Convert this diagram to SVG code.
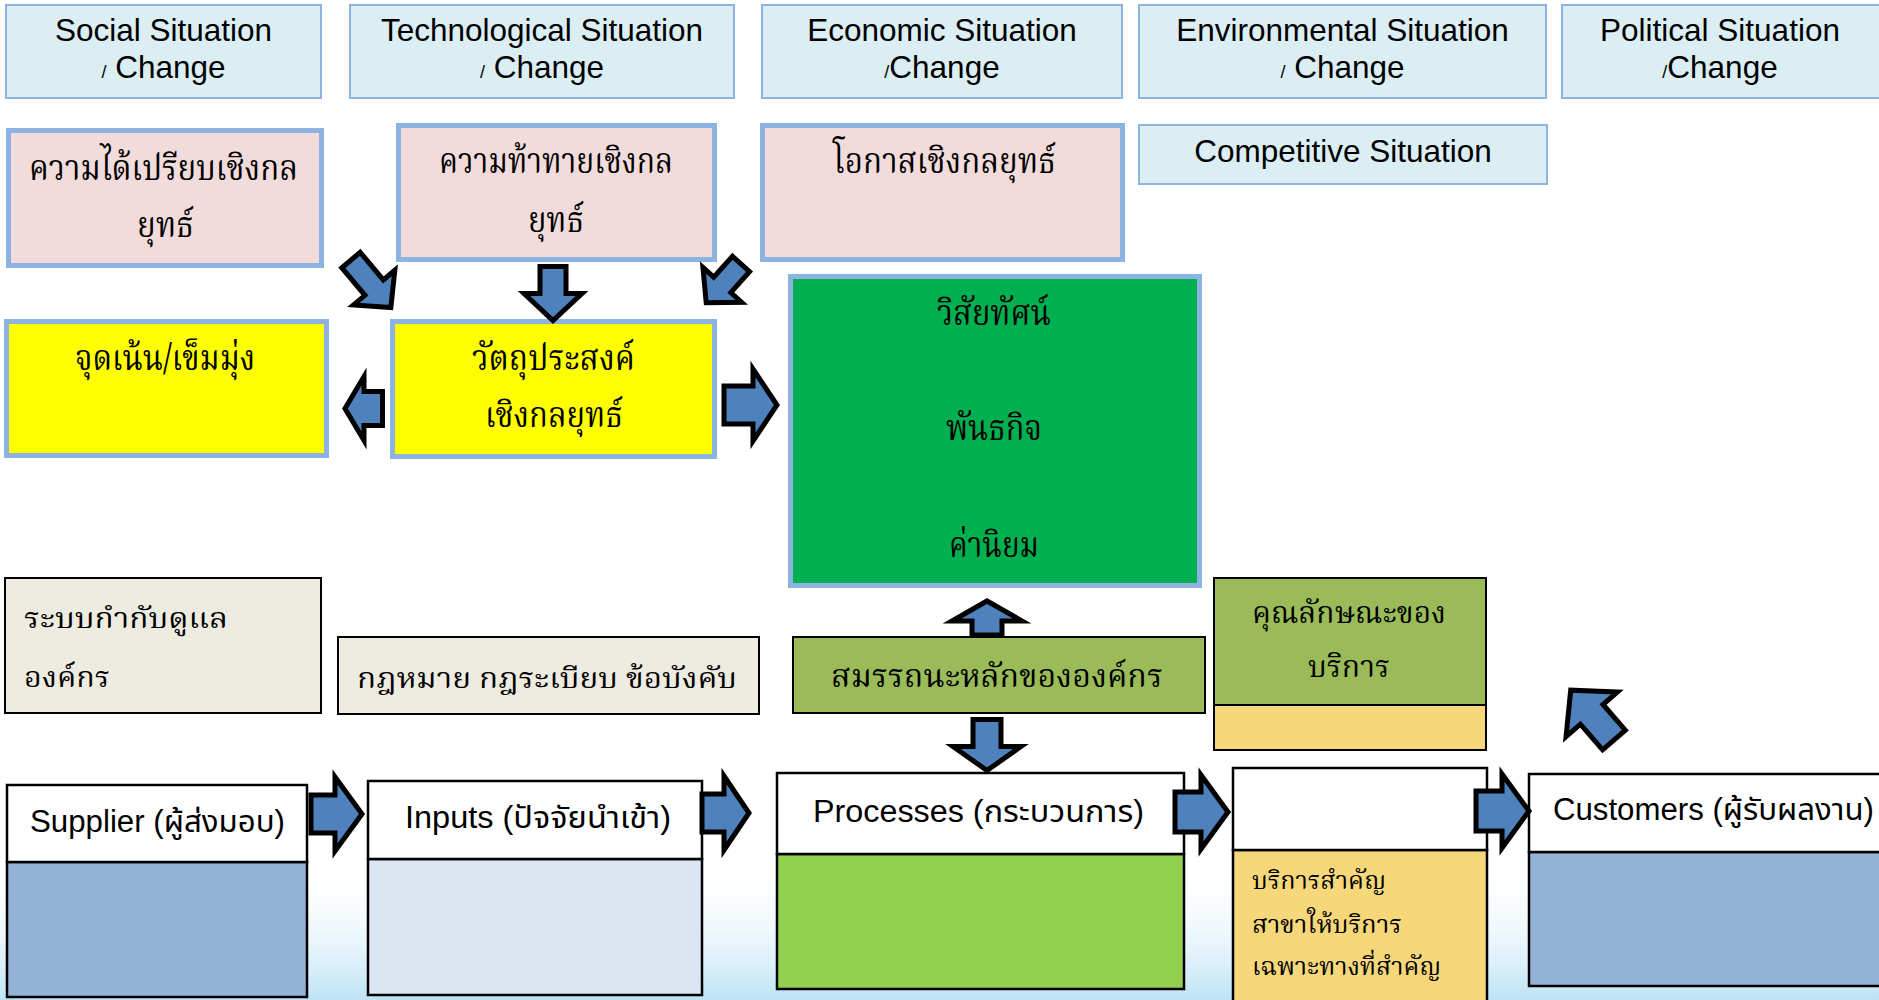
<svg xmlns="http://www.w3.org/2000/svg" width="1879" height="1000" viewBox="0 0 1879 1000">
<style>
.hdr{fill:#DBEEF4;stroke:#8DB3E2;stroke-width:2}
.pink{fill:#F2DCDB;stroke:#8DB3E2;stroke-width:5}
.yel{fill:#FFFF00;stroke:#8DB3E2;stroke-width:5}
.grn{fill:#00B050;stroke:#8DB3E2;stroke-width:5}
.beige{fill:#EEECE1;stroke:#000;stroke-width:2}
.olive{fill:#9BBB59;stroke:#000;stroke-width:2}
.gold{fill:#F6D87A;stroke:#000;stroke-width:2}
.wh{fill:#FFFFFF;stroke:#000;stroke-width:2.5}
.bl{fill:#95B3D7;stroke:#000;stroke-width:2.5}
.lbl{fill:#DCE6F2;stroke:#000;stroke-width:2.5}
.lg{fill:#92D050;stroke:#000;stroke-width:2.5}
.gd{fill:#F6D87A;stroke:#000;stroke-width:2.5}
.arr{fill:#4F81BD;stroke:#000;stroke-width:5;stroke-linejoin:miter;stroke-miterlimit:10}
.en{font-family:"Liberation Sans",Arial,sans-serif;font-size:31.5px;fill:#000}
.th{font-family:"Noto Serif Thai","Noto Sans Thai","Angsana New","Norasi","Garuda","Loma",serif;fill:#000}
.mx{font-family:"Liberation Sans","Noto Sans Thai","Garuda","Loma",sans-serif;font-size:31px;fill:#000}
.sl{font-size:18px}
</style>
<defs>
<linearGradient id="bg" x1="0" y1="0" x2="0" y2="1">
<stop offset="0" stop-color="#FFFFFF" stop-opacity="0"/>
<stop offset="1" stop-color="#BDE3F6"/>
</linearGradient>
</defs>
<rect x="0" y="0" width="1879" height="1000" fill="#FFFFFF"/>
<rect x="0" y="860" width="1879" height="140" fill="url(#bg)"/>

<g id="social">
<rect class="hdr" x="6" y="5" width="315" height="93"/>
<text class="en" x="163.5" y="41" text-anchor="middle">Social Situation</text>
<text class="en" x="163.5" y="78" text-anchor="middle"><tspan class="sl">/</tspan> Change</text>
</g>
<g id="technological">
<rect class="hdr" x="350" y="5" width="384" height="93"/>
<text class="en" x="542" y="41" text-anchor="middle">Technological Situation</text>
<text class="en" x="542" y="78" text-anchor="middle"><tspan class="sl">/</tspan> Change</text>
</g>
<g id="economic">
<rect class="hdr" x="762" y="5" width="360" height="93"/>
<text class="en" x="942" y="41" text-anchor="middle">Economic Situation</text>
<text class="en" x="942" y="78" text-anchor="middle"><tspan class="sl">/</tspan>Change</text>
</g>
<g id="environmental">
<rect class="hdr" x="1139" y="5" width="407" height="93"/>
<text class="en" x="1342.5" y="41" text-anchor="middle">Environmental Situation</text>
<text class="en" x="1342.5" y="78" text-anchor="middle"><tspan class="sl">/</tspan> Change</text>
</g>
<g id="political">
<rect class="hdr" x="1562" y="5" width="330" height="93"/>
<text class="en" x="1720" y="41" text-anchor="middle">Political Situation</text>
<text class="en" x="1720" y="78" text-anchor="middle"><tspan class="sl">/</tspan>Change</text>
</g>
<g id="competitive">
<rect class="hdr" x="1139" y="125" width="408" height="59"/>
<text class="en" x="1343" y="162" text-anchor="middle">Competitive Situation</text>
</g>

<g id="advantage">
<rect class="pink" x="8.5" y="130.5" width="313" height="135"/>
<text class="th" font-size="36" x="163.5" y="180" text-anchor="middle" textLength="269" lengthAdjust="spacingAndGlyphs">ความได้เปรียบเชิงกล</text>
<text class="th" font-size="36" x="165.5" y="237" text-anchor="middle" textLength="57" lengthAdjust="spacingAndGlyphs">ยุทธ์</text>
</g>
<g id="challenge">
<rect class="pink" x="398.5" y="125.5" width="316" height="134"/>
<text class="th" font-size="36" x="556" y="173" text-anchor="middle" textLength="234" lengthAdjust="spacingAndGlyphs">ความท้าทายเชิงกล</text>
<text class="th" font-size="36" x="556" y="232" text-anchor="middle" textLength="56" lengthAdjust="spacingAndGlyphs">ยุทธ์</text>
</g>
<g id="opportunity">
<rect class="pink" x="762.5" y="125.5" width="360" height="134"/>
<text class="th" font-size="36" x="944.5" y="173" text-anchor="middle" textLength="223" lengthAdjust="spacingAndGlyphs">โอกาสเชิงกลยุทธ์</text>
</g>

<g id="focus">
<rect class="yel" x="6.5" y="321.5" width="320" height="134"/>
<text class="th" font-size="36" x="165" y="370" text-anchor="middle" textLength="180" lengthAdjust="spacingAndGlyphs">จุดเน้น/เข็มมุ่ง</text>
</g>
<g id="objectives">
<rect class="yel" x="392.5" y="321.5" width="322" height="135"/>
<text class="th" font-size="36" x="553.5" y="370" text-anchor="middle" textLength="163" lengthAdjust="spacingAndGlyphs">วัตถุประสงค์</text>
<text class="th" font-size="36" x="554" y="427" text-anchor="middle" textLength="138" lengthAdjust="spacingAndGlyphs">เชิงกลยุทธ์</text>
</g>
<g id="vision">
<rect class="grn" x="790.5" y="276.5" width="409" height="309"/>
<text class="th" font-size="36" x="994" y="325" text-anchor="middle" textLength="114" lengthAdjust="spacingAndGlyphs">วิสัยทัศน์</text>
<text class="th" font-size="36" x="994" y="440" text-anchor="middle" textLength="96" lengthAdjust="spacingAndGlyphs">พันธกิจ</text>
<text class="th" font-size="36" x="994" y="557" text-anchor="middle" textLength="90" lengthAdjust="spacingAndGlyphs">ค่านิยม</text>
</g>

<g id="governance">
<rect class="beige" x="5" y="578" width="316" height="135"/>
<text class="th" font-size="29" x="24" y="628" textLength="204" lengthAdjust="spacingAndGlyphs">ระบบกำกับดูแล</text>
<text class="th" font-size="29" x="24" y="687" textLength="86" lengthAdjust="spacingAndGlyphs">องค์กร</text>
</g>
<g id="regulations">
<rect class="beige" x="338" y="637" width="421" height="77"/>
<text class="th" font-size="29" x="547" y="688" text-anchor="middle" textLength="380" lengthAdjust="spacingAndGlyphs">กฎหมาย กฎระเบียบ ข้อบังคับ</text>
</g>
<g id="competency">
<rect class="olive" x="793" y="637" width="412" height="76"/>
<text class="th" font-size="32" x="997" y="687" text-anchor="middle" textLength="332" lengthAdjust="spacingAndGlyphs">สมรรถนะหลักขององค์กร</text>
</g>
<g id="service-character">
<rect class="olive" x="1214" y="578" width="272" height="127"/>
<rect class="gold" x="1214" y="705" width="272" height="45"/>
<text class="th" font-size="30" x="1349" y="623" text-anchor="middle" textLength="194" lengthAdjust="spacingAndGlyphs">คุณลักษณะของ</text>
<text class="th" font-size="30" x="1349" y="677" text-anchor="middle" textLength="82" lengthAdjust="spacingAndGlyphs">บริการ</text>
</g>

<g id="supplier">
<rect class="bl" x="7" y="862" width="300" height="135"/>
<rect class="wh" x="7" y="785" width="300" height="77"/>
<text class="mx" x="30" y="832" textLength="255" lengthAdjust="spacingAndGlyphs">Supplier (ผู้ส่งมอบ)</text>
</g>
<g id="inputs">
<rect class="lbl" x="368" y="859" width="334" height="136"/>
<rect class="wh" x="368" y="781" width="334" height="78"/>
<text class="mx" x="405" y="828" textLength="266" lengthAdjust="spacingAndGlyphs">Inputs (ปัจจัยนำเข้า)</text>
</g>
<g id="processes">
<rect class="lg" x="777" y="854" width="407" height="135"/>
<rect class="wh" x="777" y="773" width="407" height="81"/>
<text class="mx" x="813" y="822" textLength="331" lengthAdjust="spacingAndGlyphs">Processes (กระบวนการ)</text>
</g>
<g id="outputs">
<rect class="gd" x="1233" y="850" width="254" height="160"/>
<rect class="wh" x="1233" y="768" width="254" height="82"/>
<text class="th" font-size="24" x="1252" y="889" textLength="134" lengthAdjust="spacingAndGlyphs">บริการสำคัญ</text>
<text class="th" font-size="24" x="1252" y="933" textLength="150" lengthAdjust="spacingAndGlyphs">สาขาให้บริการ</text>
<text class="th" font-size="24" x="1252" y="975" textLength="189" lengthAdjust="spacingAndGlyphs">เฉพาะทางที่สำคัญ</text>
</g>
<g id="customers">
<rect class="bl" x="1529" y="852" width="360" height="134"/>
<rect class="wh" x="1529" y="774" width="360" height="78"/>
<text class="mx" x="1553" y="820" textLength="321" lengthAdjust="spacingAndGlyphs">Customers (ผู้รับผลงาน)</text>
</g>

<g id="connectors">
<path class="arr" transform="translate(351,260) rotate(50)" d="M0,-12 L36,-12 L36,-27 L62,0 L36,27 L36,12 L0,12 Z"/>
<path class="arr" transform="translate(553,266.5) rotate(90)" d="M0,-13 L27,-13 L27,-29 L54,0 L27,29 L27,13 L0,13 Z"/>
<path class="arr" transform="translate(741,264) rotate(132)" d="M0,-11.5 L28,-11.5 L28,-26 L52,0 L28,26 L28,11.5 L0,11.5 Z"/>
<path class="arr" transform="translate(382.5,408.5) rotate(180)" d="M0,-17 L18.5,-17 L18.5,-32 L37.5,0 L18.5,32 L18.5,17 L0,17 Z"/>
<path class="arr" transform="translate(724,405)" d="M0,-19 L29,-19 L29,-36 L53,0 L29,36 L29,19 L0,19 Z"/>
<path class="arr" transform="translate(987,635) rotate(-90)" d="M0,-15 L14,-15 L14,-35 L34,0 L14,35 L14,15 L0,15 Z"/>
<path class="arr" transform="translate(987,719.5) rotate(90)" d="M0,-14 L27,-14 L27,-34 L51,0 L27,34 L27,14 L0,14 Z"/>
<path class="arr" transform="translate(1614,740) rotate(229)" d="M0,-15 L34,-15 L34,-34 L66,0 L34,34 L34,15 L0,15 Z"/>
<path class="arr" transform="translate(311,814)" d="M0,-19 L24,-19 L24,-37 L51,0 L24,37 L24,19 L0,19 Z"/>
<path class="arr" transform="translate(702,813)" d="M0,-19 L22,-19 L22,-37 L47,0 L22,37 L22,19 L0,19 Z"/>
<path class="arr" transform="translate(1175,812)" d="M0,-20 L26,-20 L26,-37 L53,0 L26,37 L26,20 L0,20 Z"/>
<path class="arr" transform="translate(1476,811)" d="M0,-20 L26,-20 L26,-37 L53,0 L26,37 L26,20 L0,20 Z"/>
</g>
</svg>
